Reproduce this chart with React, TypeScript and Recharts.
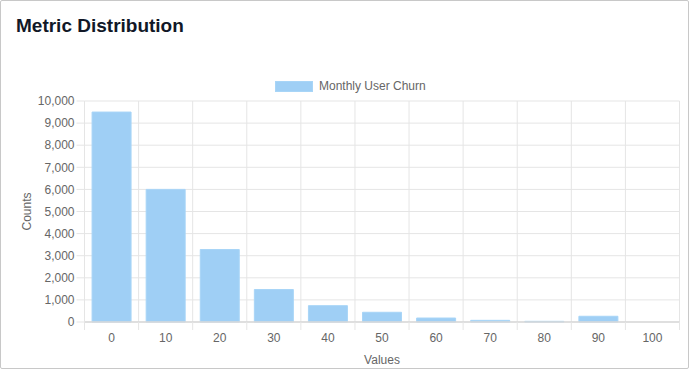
import React from 'react';
import { BarChart, Bar, XAxis, YAxis, CartesianGrid, Legend } from 'recharts';

const categories = ['0', '10', '20', '30', '40', '50', '60', '70', '80', '90', '100'];
const churnCounts = [9500, 6000, 3280, 1470, 740, 440, 180, 75, 30, 260, 0];
const yTicks = [0, 1000, 2000, 3000, 4000, 5000, 6000, 7000, 8000, 9000, 10000];
const seriesName = 'Monthly User Churn';

const data = categories.map((c, i) => ({ bin: c, count: churnCounts[i] }));

const FONT = '"Liberation Sans", Arial, Helvetica, sans-serif';
const GRID = '#e5e5e5';
const TEXT = '#666666';

const XTick = (props: any) => {
  const { x, y, payload, index } = props;
  const off = payload && typeof payload.offset === 'number' ? payload.offset : 27;
  const axisY = y - 10;
  const isLast = index === categories.length - 1;
  return (
    <g>
      <line x1={x - off} x2={x - off} y1={axisY} y2={axisY + 8} stroke={GRID} strokeWidth={1} />
      {isLast && <line x1={x + off} x2={x + off} y1={axisY} y2={axisY + 8} stroke={GRID} strokeWidth={1} />}
      <text x={x} y={y + 6} textAnchor="middle" dominantBaseline="central" fill={TEXT} fontSize={12} fontFamily={FONT}>
        {payload.value}
      </text>
    </g>
  );
};

const LegendContent = () => (
  <div style={{ display: 'flex', alignItems: 'center', paddingLeft: 275, height: 14, fontFamily: FONT }}>
    <span style={{ display: 'inline-block', width: 38, height: 11, background: '#9fcff5', boxSizing: 'border-box', border: '1px solid #a8d5f7' }} />
    <span style={{ marginLeft: 6, fontSize: 12, color: TEXT, lineHeight: '14px' }}>{seriesName}</span>
  </div>
);

export default function App() {
  return (
    <div style={{ position: 'fixed', left: 0, top: 0, width: 690, height: 370, background: '#fff' }}>
      <div style={{ position: 'absolute', left: 0, top: 0, width: 689, height: 369, border: '1px solid #c8c8c8', boxSizing: 'border-box', borderRadius: 2 }} />
      <div style={{ position: 'absolute', left: 16, top: 15, fontFamily: FONT, fontWeight: 700, fontSize: 19, lineHeight: '22px', color: '#111827' }}>
        Metric Distribution
      </div>
      <div style={{ position: 'absolute', left: 0, top: 0 }}>
        <BarChart width={690} height={370} data={data} margin={{ top: 101, right: 10.5, left: 0, bottom: 0 }} barCategoryGap="14%">
          <CartesianGrid
            stroke={GRID}
            strokeWidth={1}
            verticalCoordinatesGenerator={({ offset }: any) =>
              Array.from({ length: categories.length + 1 }, (_, i) => offset.left + (i * offset.width) / categories.length)
            }
          />
          <Legend layout="horizontal" verticalAlign="middle" align="center" wrapperStyle={{ top: 79, left: 0, width: 690 }} content={<LegendContent />} />
          <XAxis
            dataKey="bin"
            height={48}
            interval={0}
            tickSize={8}
            tickMargin={2}
            tickLine={{ stroke: 'none' }}
            axisLine={{ stroke: '#d9d9d9', strokeWidth: 1.5 }}
            tick={<XTick />}
            label={{
              content: (p: any) => {
                const vb = p.viewBox || {};
                return (
                  <text x={vb.x + vb.width / 2} y={359.5} textAnchor="middle" dominantBaseline="central" fill={TEXT} fontSize={12} fontFamily={FONT}>
                    Values
                  </text>
                );
              },
            }}
          />
          <YAxis
            width={84.5}
            domain={[0, 10000]}
            ticks={yTicks}
            interval={0}
            tickSize={8}
            tickMargin={2}
            tickLine={{ stroke: GRID }}
            axisLine={{ stroke: GRID }}
            tick={{ fill: TEXT, fontSize: 12, fontFamily: FONT }}
            tickFormatter={(v: number) => v.toLocaleString('en-US')}
            label={{
              content: (p: any) => {
                const vb = p.viewBox || {};
                const cy = vb.y + vb.height / 2;
                return (
                  <text x={27} y={cy} transform={`rotate(-90, 27, ${cy})`} textAnchor="middle" dominantBaseline="central" fill={TEXT} fontSize={12} fontFamily={FONT}>
                    Counts
                  </text>
                );
              },
            }}
          />
          <Bar dataKey="count" name={seriesName} fill="#9fcff5" stroke="#a8d5f7" strokeWidth={1} isAnimationActive={false} />
        </BarChart>
      </div>
    </div>
  );
}
